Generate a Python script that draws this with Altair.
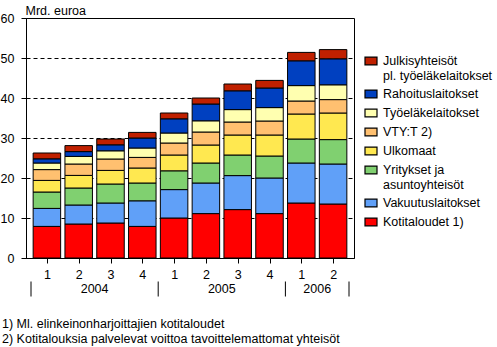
import altair as alt
import pandas as pd

quarters = ["1", "2", "3", "4", "1", "2", "3", "4", "1", "2"]
years = ["2004", "2005", "2006"]
year_start = [0, 4, 8]
year_end = [4, 8, 10]

series = [
    "Kotitaloudet 1)",
    "Vakuutuslaitokset",
    "Yritykset ja|asuntoyhteisöt",
    "Ulkomaat",
    "VTY:T 2)",
    "Työeläkelaitokset",
    "Rahoituslaitokset",
    "Julkisyhteisöt|pl. työeläkelaitokset",
]
colors = ["#FF0000", "#60A0F8", "#80D070", "#FFE850", "#FFC070", "#FFFFB0", "#0040C0", "#C02000"]

kotitaloudet = [7.9, 8.5, 8.75, 7.9, 10.0, 11.1, 12.1, 11.1, 13.75, 13.5]
vakuutus = [4.5, 4.75, 5.0, 6.4, 7.1, 7.65, 8.5, 8.9, 10.0, 10.0]
yritykset = [4.1, 4.25, 4.75, 4.45, 4.7, 5.0, 5.15, 5.5, 6.0, 6.1]
ulkomaat = [2.9, 3.15, 3.4, 3.75, 3.95, 4.5, 5.0, 5.25, 6.25, 6.65]
vty = [2.7, 2.85, 2.85, 2.65, 3.0, 3.25, 3.25, 3.5, 3.25, 3.35]
tyoelake = [1.65, 1.9, 2.05, 2.35, 2.5, 2.8, 3.1, 3.35, 3.85, 3.7]
rahoitus = [1.05, 1.2, 1.5, 2.5, 3.55, 4.2, 4.7, 4.9, 6.2, 6.5]
julkis = [1.45, 1.5, 1.45, 1.4, 1.45, 1.5, 1.7, 1.9, 2.1, 2.3]

footnotes = [
    "1) Ml. elinkeinonharjoittajien kotitaloudet",
    "2) Kotitalouksia palvelevat voittoa tavoittelemattomat yhteisöt",
]

values = [kotitaloudet, vakuutus, yritykset, ulkomaat, vty, tyoelake, rahoitus, julkis]
rows = []
for s_idx, (name, vals) in enumerate(zip(series, values)):
    for i, v in enumerate(vals):
        rows.append({"pos": i + 0.5, "series": name, "order": s_idx, "value": v})
df = pd.DataFrame(rows)

df_years = pd.DataFrame({"year": years, "start": year_start, "end": year_end})
df_bounds = pd.DataFrame({"b": year_start + [year_end[-1]]})
df_notes = pd.DataFrame({"n": [0]})

FONT = "Liberation Sans"

xscale = alt.Scale(domain=[0, len(quarters)], nice=False, zero=False)
qexpr = "[" + ",".join("'%s'" % q for q in quarters) + "][floor(datum.value)]"

xaxis = alt.Axis(
    values=[i + 0.5 for i in range(len(quarters))],
    labelExpr=qexpr,
    labelOverlap=False,
    labelBound=False,
    labelFlush=False,
    grid=False,
    title=None,
    tickSize=5,
    labelPadding=5,
    domainColor="black",
    tickColor="black",
    labelColor="black",
    labelFontSize=12.5,
)

bars = alt.Chart(df).mark_bar(width=27.5, stroke="black", strokeWidth=1).encode(
    x=alt.X("pos:Q", scale=xscale, axis=xaxis),
    y=alt.Y(
        "value:Q",
        stack="zero",
        scale=alt.Scale(domain=[0, 60], nice=False),
        axis=alt.Axis(
            values=[0, 10, 20, 30, 40, 50, 60],
            grid=True,
            gridColor="black",
            gridDash=[4, 3],
            gridWidth=1,
            tickSize=5,
            labelPadding=7,
            labelOverlap=False,
            domainColor="black",
            tickColor="black",
            labelColor="black",
            labelFontSize=12.5,
            title="Mrd. euroa",
            titleAngle=0,
            titleX=-1,
            titleY=-4,
            titleAlign="left",
            titleBaseline="alphabetic",
            titleFontWeight="normal",
            titleFontSize=12.5,
            titleColor="black",
        ),
    ),
    color=alt.Color(
        "series:N",
        scale=alt.Scale(domain=series[::-1], range=colors[::-1]),
        legend=alt.Legend(
            title=None,
            orient="none",
            legendX=338,
            legendY=36,
            padding=0,
            symbolType="M-1,-0.65L1,-0.65L1,0.65L-1,0.65Z",
            symbolSize=144,
            symbolStrokeColor="black",
            symbolStrokeWidth=1.2,
            symbolOpacity=1,
            labelExpr="split(datum.label, '|')",
            labelFontSize=12.5,
            labelColor="black",
            labelOffset=5,
            labelLimit=200,
            rowPadding=5,
        ),
    ),
    order=alt.Order("order:Q", sort="ascending"),
)

year_text = alt.Chart(df_years).transform_calculate(
    mid="(datum.start + datum.end) / 2"
).mark_text(fontSize=12.5, baseline="alphabetic", color="black").encode(
    x=alt.X("mid:Q", scale=xscale, axis=xaxis),
    y=alt.value(275),
    text="year:N",
)

seps = alt.Chart(df_bounds).mark_rule(color="black", strokeWidth=1).encode(
    x=alt.X("b:Q", scale=xscale, axis=xaxis),
    y=alt.value(263.5),
    y2=alt.value(278.5),
)

notes = alt.Chart(df_notes).mark_text(
    align="left", baseline="alphabetic", fontSize=12.5, lineHeight=15, color="black"
).encode(
    x=alt.value(-24),
    y=alt.value(310),
    text=alt.value(footnotes),
)

chart = (
    alt.layer(bars, year_text, seps, notes)
    .properties(
        width=328,
        height=240,
        autosize=alt.AutoSizeParams(type="none"),
        padding={"left": 26, "top": 18, "right": 143, "bottom": 89},
    )
    .configure(font=FONT)
    .configure_view(stroke="black", strokeWidth=1)
)

chart.save("out.html", embed_options={"renderer": "svg", "actions": False})
